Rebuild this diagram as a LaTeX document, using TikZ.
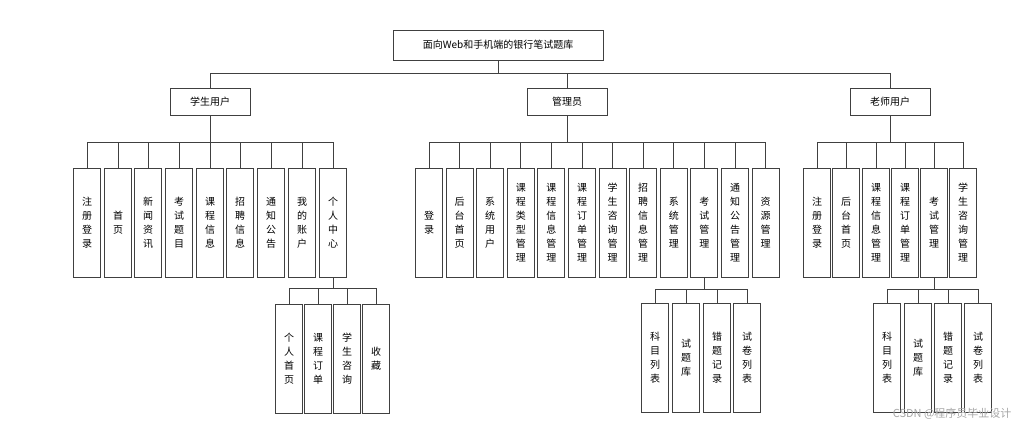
\documentclass[tikz,border=0pt]{standalone}
\usepackage{fontspec}
\setmainfont{Noto Sans CJK SC}
\begin{document}
\begin{tikzpicture}[x=1pt,y=-1pt,
  box/.style={draw=black!75,line width=0.9pt,fill=white,inner sep=0pt,font=\fontsize{10}{14}\selectfont},
  hbox/.style={box,minimum width=80pt,minimum height=27pt},
  vb/.style={box,minimum width=27pt,minimum height=109pt,align=center},
  ln/.style={draw=black!75,line width=0.8pt}]
\useasboundingbox (0,0) rectangle (1019,434);
\node[box,minimum width=210pt,minimum height=30pt] (t) at (498,45) {面向Web和手机端的银行笔试题库};
\node[hbox] (s) at (210,101.5) {学生用户};
\node[hbox] (a) at (567,101.5) {管理员};
\node[hbox] (te) at (890,101.5) {老师用户};
\draw[ln] (t.south) -- (498,73) (s.north) |- (te.north |- 0,73) -- (te.north) (a.north) -- (567,73);
% student
\foreach \n/\x/\t in {s1/87/注\\册\\登\\录, s2/118/首\\页, s3/148/新\\闻\\资\\讯, s4/179/考\\试\\题\\目, s5/210/课\\程\\信\\息, s6/240/招\\聘\\信\\息, s7/271/通\\知\\公\\告, s8/302/我\\的\\账\\户, s9/333/个\\人\\中\\心}{
  \node[vb] (\n) at (\x,222.5) {\t};
  \draw[ln] (\n.north) -- (\x,142);}
\draw[ln] (87,142) -- (333,142) (s.south) -- (210,142);
\foreach \n/\x/\t in {p1/289/个\\人\\首\\页, p2/318/课\\程\\订\\单, p3/347/学\\生\\咨\\询, p4/376/收\\藏}{
  \node[vb] (\n) at (\x,358.5) {\t};
  \draw[ln] (\n.north) -- (\x,288);}
\draw[ln] (289,288) -- (376,288) (s9.south) -- (333,288);
% admin
\foreach \n/\x/\t in {a1/429/登\\录, a2/459.6/后\\台\\首\\页, a3/490.2/系\\统\\用\\户, a4/520.8/课\\程\\类\\型\\管\\理, a5/551.4/课\\程\\信\\息\\管\\理, a6/582/课\\程\\订\\单\\管\\理, a7/612.6/学\\生\\咨\\询\\管\\理, a8/643.2/招\\聘\\信\\息\\管\\理, a9/673.8/系\\统\\管\\理, a10/704.4/考\\试\\管\\理, a11/735/通\\知\\公\\告\\管\\理, a12/765.6/资\\源\\管\\理}{
  \node[vb] (\n) at (\x,222.5) {\t};
  \draw[ln] (\n.north) -- (\x,142);}
\draw[ln] (429,142) -- (765.6,142) (a.south) -- (567,142);
\foreach \n/\x/\t in {b1/655/科\\目\\列\\表, b2/686/试\\题\\库, b3/717/错\\题\\记\\录, b4/747/试\\卷\\列\\表}{
  \node[vb] (\n) at (\x,357.5) {\t};
  \draw[ln] (\n.north) -- (\x,289);}
\draw[ln] (655,289) -- (747,289) (a10.south) -- (704.4,289);
% teacher
\foreach \n/\x/\t in {c1/817/注\\册\\登\\录, c2/846/后\\台\\首\\页, c3/876/课\\程\\信\\息\\管\\理, c4/905/课\\程\\订\\单\\管\\理, c5/934/考\\试\\管\\理, c6/963/学\\生\\咨\\询\\管\\理}{
  \node[vb] (\n) at (\x,222.5) {\t};
  \draw[ln] (\n.north) -- (\x,142);}
\draw[ln] (817,142) -- (963,142) (te.south) -- (890,142);
\foreach \n/\x/\t in {d1/887/科\\目\\列\\表, d2/918/试\\题\\库, d3/948/错\\题\\记\\录, d4/978/试\\卷\\列\\表}{
  \node[vb] (\n) at (\x,357.5) {\t};
  \draw[ln] (\n.north) -- (\x,289);}
\draw[ln] (887,289) -- (978,289) (c5.south) -- (934,289);
\node[text=black!35,font=\fontsize{11}{13}\selectfont,anchor=east] (wm) at (1015,414) {CSDN @程序员毕业设计};
\end{tikzpicture}
\end{document}
